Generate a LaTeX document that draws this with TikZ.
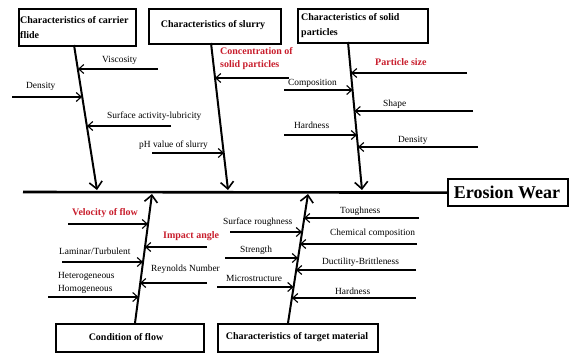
\documentclass[tikz,border=0pt]{standalone}
\usepackage{fontspec}
\setmainfont{Liberation Serif}
\usetikzlibrary{arrows.meta}
\definecolor{lblred}{RGB}{200,30,45}
\tikzset{
  box/.style={draw,line width=2.2pt,anchor=north west,inner sep=2pt},
  head/.style={font=\bfseries\fontsize{10}{15}\selectfont,inner sep=0pt},
  bone/.style={line width=2pt,-{Straight Barb[length=7pt,width=13pt,line width=1.6pt]}},
  sub/.style={line width=1.3pt,-{Straight Barb[length=5pt,width=9pt,line width=1.1pt]}},
  lbl/.style={anchor=west,inner sep=0pt,font=\fontsize{9.4}{10}\selectfont},
  rlbl/.style={anchor=west,inner sep=0pt,text=lblred,font=\bfseries\fontsize{10}{13}\selectfont,align=left},
}
\begin{document}
\begin{tikzpicture}[x=1pt,y=-1pt]
\useasboundingbox (0,0) rectangle (572,353);
% boxes
\node[box,minimum width=117pt,minimum height=37pt] (b1) at (18,8) {};
\node[head,anchor=west,align=left] (t1) at (20,27.5) {Characteristics of carrier\\flide};
\node[box,minimum width=132pt,minimum height=35pt] (b2) at (148,8) {};
\node[head] (t2) at (213,25) {Characteristics of slurry};
\node[box,minimum width=130pt,minimum height=34pt] (b3) at (297,8) {};
\node[head,anchor=west,align=left] (t3) at (301,25.5) {Characteristics of solid\\particles};
\node[box,minimum width=148pt,minimum height=28pt] (b4) at (55,323) {};
\node[head] (t4) at (126,337) {Condition of flow};
\node[box,minimum width=160pt,minimum height=28pt] (b5) at (217,323) {};
\node[head] (t5) at (297,337) {Characteristics of target material};
\node[box,minimum width=120pt,minimum height=27pt] (ew) at (447,178) {};
\node[font=\bfseries\fontsize{18}{20}\selectfont,inner sep=0pt] (tew) at (507,192) {Erosion Wear};
% spine
\coordinate (sp) at (23,192);
\draw[line width=2.6pt] (sp) -- (ew.west);
% main bones
\coordinate (a1) at (74,45); \coordinate (e1) at (97,190);
\coordinate (a2) at (211,43); \coordinate (e2) at (228,190);
\coordinate (a3) at (348,42); \coordinate (e3) at (362,190);
\coordinate (a4) at (135,323); \coordinate (e4) at (152,194);
\coordinate (a5) at (288,323); \coordinate (e5) at (308,194);
\draw[bone] (a1) -- (e1);
\draw[bone] (a2) -- (e2);
\draw[bone] (a3) -- (e3);
\draw[bone] (a4) -- (e4);
\draw[bone] (a5) -- (e5);
% bone 1
\coordinate (s11) at (158,69); \coordinate (p11) at (78,69);
\coordinate (s12) at (12,97); \coordinate (p12) at (82,97);
\coordinate (s13) at (171,126); \coordinate (p13) at (87,126);
\draw[sub] (s11) -- (p11); \node[lbl] (l11) at (102,60) {Viscosity};
\draw[sub] (s12) -- (p12); \node[lbl] (l12) at (26,86) {Density};
\draw[sub] (s13) -- (p13); \node[lbl] (l13) at (107,116) {Surface activity-lubricity};
% bone 2
\coordinate (s21) at (289,78); \coordinate (p21) at (215,78);
\coordinate (s22) at (152,153); \coordinate (p22) at (224,153);
\draw[sub] (s21) -- (p21); \node[rlbl] (l21) at (220,58.5) {Concentration of\\solid particles};
\draw[sub] (s22) -- (p22); \node[lbl] (l22) at (139,145) {pH value of slurry};
% bone 3
\coordinate (s31) at (467,73); \coordinate (p31) at (351,73);
\coordinate (s32) at (284,90); \coordinate (p32) at (352.5,90);
\coordinate (s33) at (473,111); \coordinate (p33) at (354.5,111);
\coordinate (s34) at (284,135); \coordinate (p34) at (357,135);
\coordinate (s35) at (478,147); \coordinate (p35) at (358,147);
\draw[sub] (s31) -- (p31); \node[rlbl] (l31) at (375,62) {Particle size};
\draw[sub] (s32) -- (p32); \node[lbl] (l32) at (288,83) {Composition};
\draw[sub] (s33) -- (p33); \node[lbl] (l33) at (383,104) {Shape};
\draw[sub] (s34) -- (p34); \node[lbl] (l34) at (294,125) {Hardness};
\draw[sub] (s35) -- (p35); \node[lbl] (l35) at (398,140) {Density};
% bone 4
\coordinate (s41) at (68,224); \coordinate (p41) at (148,224);
\coordinate (s42) at (207,247); \coordinate (p42) at (145,247);
\coordinate (s43) at (62,262); \coordinate (p43) at (143,262);
\coordinate (s44) at (207,283); \coordinate (p44) at (140,283);
\coordinate (s45) at (48,297); \coordinate (p45) at (138.5,297);
\draw[sub] (s41) -- (p41); \node[rlbl] (l41) at (72,213) {Velocity of flow};
\draw[sub] (s42) -- (p42); \node[rlbl] (l42) at (163,236) {Impact angle};
\draw[sub] (s43) -- (p43); \node[lbl] (l43) at (59,251) {Laminar/Turbulent};
\draw[sub] (s44) -- (p44); \node[lbl] (l44) at (151,269) {Reynolds Number};
\draw[sub] (s45) -- (p45); \node[lbl,align=left,font=\fontsize{9.4}{13}\selectfont] (l45) at (58,282.5) {Heterogeneous\\Homogeneous};
% bone 5
\coordinate (s51) at (419,218); \coordinate (p51) at (304,218);
\coordinate (s52) at (230,232); \coordinate (p52) at (302,232);
\coordinate (s53) at (417,244); \coordinate (p53) at (300,244);
\coordinate (s54) at (225,258); \coordinate (p54) at (298,258);
\coordinate (s55) at (416,270); \coordinate (p55) at (296,270);
\coordinate (s56) at (217,287); \coordinate (p56) at (293.5,287);
\coordinate (s57) at (416,298); \coordinate (p57) at (292,298);
\draw[sub] (s51) -- (p51); \node[lbl] (l51) at (340,211) {Toughness};
\draw[sub] (s52) -- (p52); \node[lbl] (l52) at (223,222) {Surface roughness};
\draw[sub] (s53) -- (p53); \node[lbl] (l53) at (330,233) {Chemical composition};
\draw[sub] (s54) -- (p54); \node[lbl] (l54) at (240,250) {Strength};
\draw[sub] (s55) -- (p55); \node[lbl] (l55) at (322,262) {Ductility-Brittleness};
\draw[sub] (s56) -- (p56); \node[lbl] (l56) at (226,278) {Microstructure};
\draw[sub] (s57) -- (p57); \node[lbl] (l57) at (335,291) {Hardness};
\end{tikzpicture}
\end{document}
